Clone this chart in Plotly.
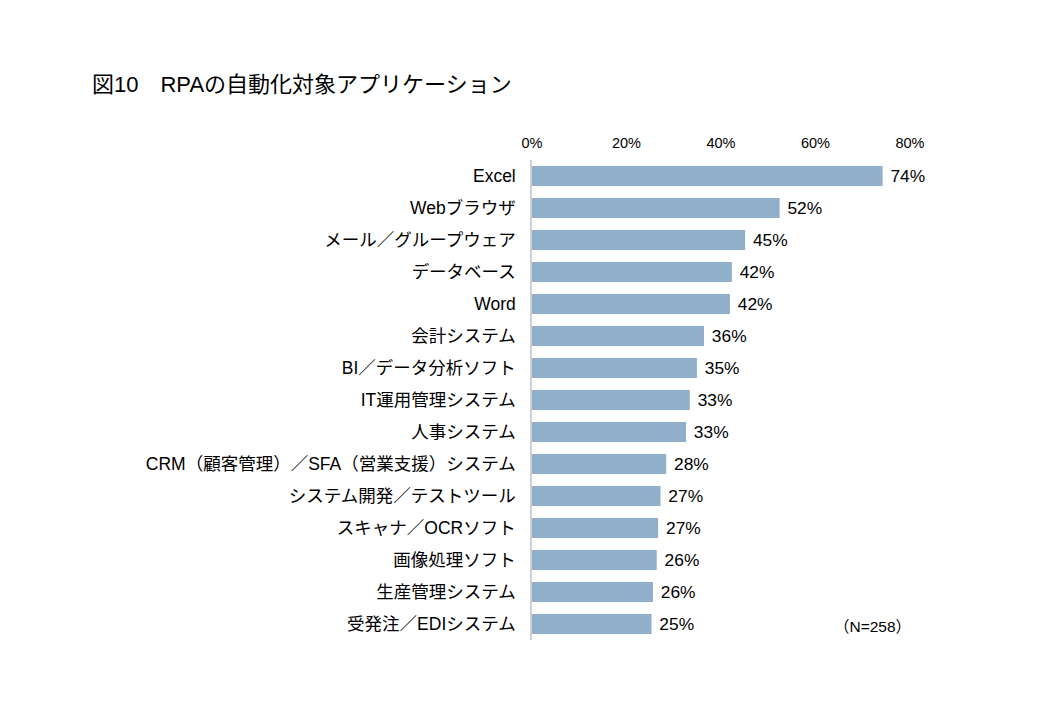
import plotly.graph_objects as go

# RPA target applications (share of respondents, %)
categories = [
    "Excel",
    "Webブラウザ",
    "メール／グループウェア",
    "データベース",
    "Word",
    "会計システム",
    "BI／データ分析ソフト",
    "IT運用管理システム",
    "人事システム",
    "CRM（顧客管理）／SFA（営業支援）システム",
    "システム開発／テストツール",
    "スキャナ／OCRソフト",
    "画像処理ソフト",
    "生産管理システム",
    "受発注／EDIシステム",
]
values = [74.2, 52.4, 45.1, 42.3, 41.9, 36.4, 34.9, 33.4, 32.6, 28.4, 27.2, 26.7, 26.4, 25.6, 25.3]
x_ticks = [0, 20, 40, 60, 80]
x_tick_labels = ["0%", "20%", "40%", "60%", "80%"]

FONT = "Liberation Sans, Arial, Noto Sans CJK JP, sans-serif"

# page body adds an 8px offset, so margins are shifted by that
L, R, T, B = 524, 146, 152, 85
W, H = 1048, 717

fig = go.Figure()
fig.add_trace(go.Bar(
    x=values, y=categories, orientation="h",
    marker=dict(color="#8FAFCB", line=dict(width=0)),
    width=0.62,
    texttemplate=" %{x:.0f}%", textposition="outside",
    textfont=dict(size=17.5, color="#000000", family=FONT),
    cliponaxis=False,
))

fig.update_layout(
    width=W, height=H,
    paper_bgcolor="white", plot_bgcolor="white",
    margin=dict(l=L, r=R, t=T, b=B),
    font=dict(family=FONT, color="#000000"),
    showlegend=False,
    title=dict(text="図10　RPAの自動化対象アプリケーション",
               x=84 / W, xanchor="left", y=1 - 76 / H, yanchor="middle",
               font=dict(size=22, color="#000000", family=FONT)),
)
fig.update_xaxes(
    side="top", range=[0, 80], tickvals=x_ticks, ticktext=x_tick_labels,
    showgrid=False, zeroline=False, showline=False, ticks="",
    tickfont=dict(size=14.5), ticklabelstandoff=8,
)
fig.update_yaxes(
    autorange="reversed", showgrid=False, zeroline=False,
    showline=True, linecolor="#D0D0D0", linewidth=1.5, ticks="",
    tickfont=dict(size=17.5), ticklabelstandoff=11,
)

fig.add_annotation(
    text="（N=258）", xref="paper", yref="paper",
    x=(872 - 8 - L) / (W - L - R), y=1 - (626 - 8 - T) / (H - T - B),
    xanchor="center", yanchor="middle", showarrow=False,
    font=dict(size=15.5, color="#000000"),
)

fig.write_html("out.html")
